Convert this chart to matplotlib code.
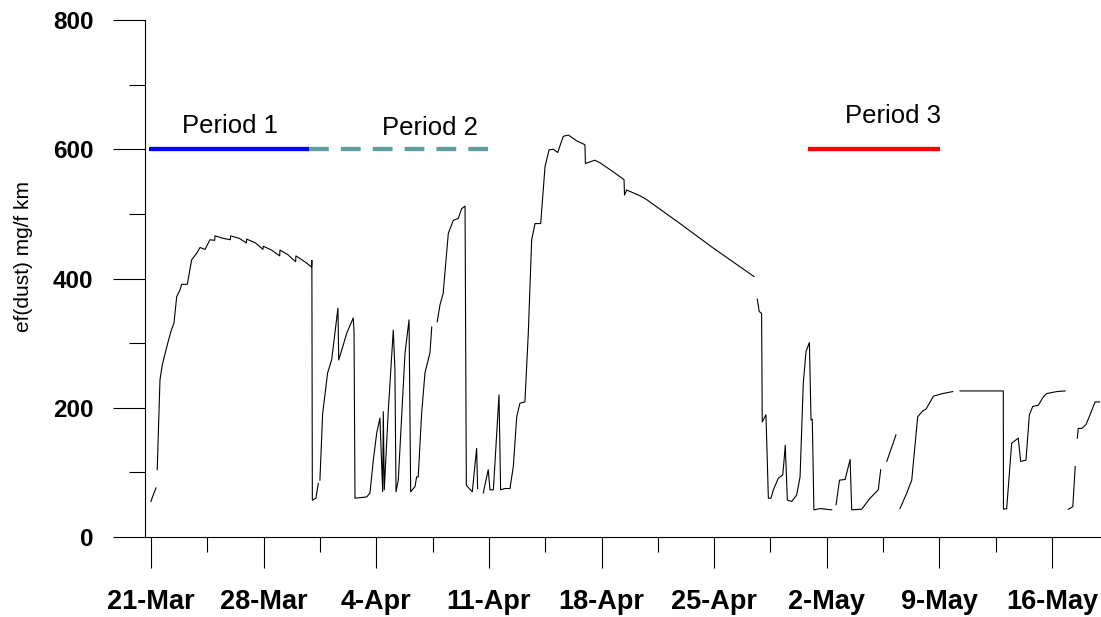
import numpy as np
import pandas as pd
import matplotlib
matplotlib.use("Agg")
import matplotlib.pyplot as plt

plt.rcParams['font.family'] = ['Liberation Sans', 'DejaVu Sans']

start = pd.Timestamp("2003-03-21")
nan = np.nan

# dust emission factor, days counted from 21-Mar 00:00 (nan = no data)
days = [0.00, 0.14, 0.31, 0.33, 0.39, 0.56, 0.70, 0.98, 1.24, 1.43, 1.60, 1.80,
        1.91, 2.26, 2.53, 2.84, 3.05, 3.36, 3.67, 3.96, 3.98, 4.50, 4.93, 4.95,
        5.50, 5.93, 5.95, 6.50, 6.96, 6.98, 7.50, 8.00, 8.02, 8.50, 8.99, 9.01,
        9.50, 9.98, 10.00, 10.03, 10.25, 10.40, 10.45, 10.50, 10.67, 10.98,
        11.23, 11.62, 11.67, 11.95, 12.16, 12.57, 12.62, 12.68, 13.41, 13.61,
        13.82, 14.03, 14.23, 14.40, 14.44, 14.50, 14.75, 15.06, 15.16, 15.23,
        15.37, 15.58, 15.79, 16.04, 16.14, 16.41, 16.51, 16.61, 16.82, 17.03,
        17.34, 17.45, 17.60, 17.79, 17.96, 18.16, 18.48, 18.79, 19.10, 19.31,
        19.52, 19.60, 19.78, 19.97, 20.24, 20.30, 20.40, 20.65, 20.96, 21.07,
        21.28, 21.49, 21.63, 21.73, 22.00, 22.31, 22.52, 22.73, 22.93, 23.24,
        23.45, 23.66, 23.87, 24.22, 24.49, 24.74, 25.00, 25.28, 25.62, 25.94,
        26.46, 26.97, 27.00, 27.59, 27.91, 28.73, 29.40, 29.43, 29.56, 30.39,
        30.81, 32.88, 34.95, 37.48, 37.60, 37.68, 37.80, 37.95, 37.99, 38.22,
        38.37, 38.53, 38.68, 38.99, 39.26, 39.34, 39.42, 39.55, 39.82, 40.13,
        40.34, 40.54, 40.71, 40.92, 41.02, 41.10, 41.20, 41.58, 42.31, 42.40,
        42.58, 42.79, 43.14, 43.45, 43.55, 44.17, 44.69, 45.20, 45.35, 45.45,
        45.73, 46.30, 46.45, 46.55, 46.97, 47.28, 47.65, 47.96, 48.17, 48.63,
        49.21, 49.83, 49.90, 50.28, 52.97, 52.98, 53.18, 53.49, 53.90, 54.05,
        54.38, 54.59, 54.80, 55.15, 55.46, 55.67, 56.29, 56.81, 56.90, 57.02,
        57.29, 57.44, 57.50, 57.57, 57.63, 57.85, 58.11, 58.36, 58.67, 58.98]
dust = [55, 65, 76, nan, 104, 243, 266, 294, 318, 331, 372, 382,
        391, 391, 429, 439, 448, 445, 460, 459, 466, 462, 460, 466,
        462, 455, 461, 455, 445, 450, 444, 435, 444, 437, 426, 435,
        427, 418, 428, 57, 60, 83, nan, 88, 191, 254,
        274, 354, 274, 297, 315, 339, 318, 60, 62, 68,
        119, 161, 184, 70, 194, 73, 196, 320, 261, 70,
        88, 186, 285, 336, 70, 78, 93, 93, 191, 254,
        285, 325, nan, 333, 359, 377, 470, 490, 493, 508,
        512, 80, 75, 70, 137, 75, nan, 68, 104, 73,
        73, 160, 220, 73, 75, 75, 109, 186, 207, 209,
        315, 460, 485, 485, 573, 599, 600, 595, 620, 622,
        613, 607, 578, 583, 579, 565, 553, 529, 537, 528,
        522, 485, 447, 403, nan, 368, 349, 346, 178, 189,
        60, 60, 73, 91, 96, 117, 142, 57, 55, 65,
        93, 238, 287, 301, 181, 182, 42, 44, 42, nan,
        50, 88, 89, 120, 42, 43, 60, 73, 104, nan,
        117, 158, nan, 44, 68, 88, 186, 195, 198, 218,
        222, 225, nan, 226, 226, 43, 44, 145, 153, 117,
        119, 189, 202, 204, 217, 222, 225, 226, nan, 43,
        47, 109, nan, 153, 168, 168, 174, 189, 209, 209]

tick_labels = ['21-Mar', '28-Mar', '4-Apr', '11-Apr', '18-Apr',
               '25-Apr', '2-May', '9-May', '16-May']

period_names = ['Period 1', 'Period 2', 'Period 3']
period_start = [-0.12, 9.82, 40.83]
period_end = [9.82, 21.07, 49.04]
period_level = 600


def to_time(d):
    return start + pd.to_timedelta(np.asarray(d, dtype=float), unit='D')


fig = plt.figure(figsize=(11.01, 6.17), dpi=100)
ax = fig.add_axes([145 / 1101, 80 / 617, 955 / 1101, 517 / 617])

ax.plot(to_time(days), dust, color='black', lw=0.8)

# period bars
styles = [dict(color='#0000ff', linestyle='-'),
          dict(color='#5f9ea0', linestyle=(0, (4.6, 2.8))),
          dict(color='#ff0000', linestyle='-')]
label_y = [625, 622, 641]
label_x = [4.91, 17.34, 46.12]
for i, name in enumerate(period_names):
    ax.plot(to_time([period_start[i], period_end[i]]), [period_level, period_level],
            lw=3.1, solid_capstyle='butt', dash_capstyle='butt', **styles[i])
    ax.text(to_time([label_x[i]])[0], label_y[i], name, fontsize=18.5,
            ha='center', va='baseline')

ax.set_xticks(to_time([7 * k for k in range(len(tick_labels))]))
ax.set_xticklabels(tick_labels, fontsize=19.5, fontweight='bold')
ax.set_xticks(to_time([7 * k + 3.5 for k in range(len(tick_labels) - 1)]), minor=True)

ax.set_yticks(range(0, 801, 200))
ax.set_yticklabels([str(v) for v in range(0, 801, 200)], fontsize=17.5, fontweight='bold')
ax.set_yticks(range(100, 800, 200), minor=True)

# limits last so the tick setters cannot widen them
ax.set_xlim(to_time([-0.37, 58.98]))
ax.set_ylim(0, 800)

ax.tick_params(axis='x', which='major', direction='out', length=22.5, width=0.8, pad=15)
ax.tick_params(axis='x', which='minor', direction='out', length=11, width=0.8)
ax.tick_params(axis='y', which='major', direction='out', length=23, width=0.8, pad=14)
ax.tick_params(axis='y', which='minor', direction='out', length=11.5, width=0.8)

for side in ['top', 'right']:
    ax.spines[side].set_visible(False)
for side in ['left', 'bottom']:
    ax.spines[side].set_linewidth(0.8)

ax.set_ylabel('ef(dust) mg/f km', fontsize=15)
ax.yaxis.set_label_coords(-0.117, 0.542)

fig.savefig('out.png', dpi=100)
